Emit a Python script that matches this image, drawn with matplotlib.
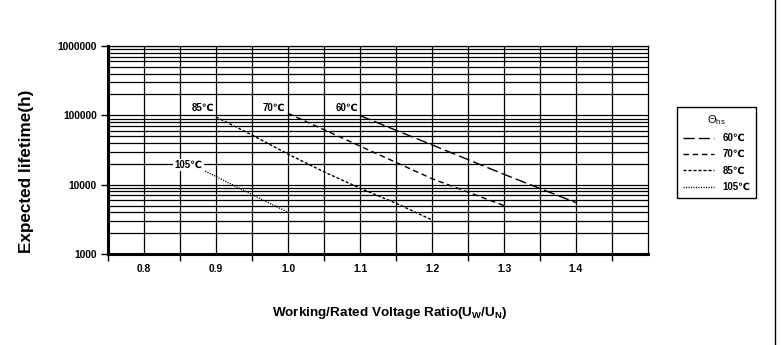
import matplotlib
matplotlib.use("Agg")
import matplotlib.pyplot as plt
from matplotlib.lines import Line2D
from matplotlib.ticker import FixedLocator, NullFormatter, FixedFormatter
import numpy as np

# values (lifetime in hours vs Uw/Un)
ratio_60 = [1.1, 1.2, 1.3, 1.4]
life_60 = [99000, 37500, 14100, 5500]

ratio_70 = [1.0, 1.1, 1.2, 1.3]
life_70 = [107000, 36000, 12200, 5000]

ratio_85 = [0.9, 0.95, 1.0, 1.05, 1.1, 1.15, 1.2]
life_85 = [95000, 52000, 27600, 15300, 8900, 5400, 3100]

ratio_105 = [0.885, 0.95, 1.0]
life_105 = [15700, 7200, 4000]

series_names = ["60℃", "70℃", "85℃", "105℃"]
x_tick_labels = ["0.8", "0.9", "1.0", "1.1", "1.2", "1.3", "1.4"]
y_tick_labels = ["1000", "10000", "100000", "1000000"]

plt.rcParams['font.family'] = ['Liberation Sans', 'DejaVu Sans']
plt.rcParams['mathtext.fontset'] = 'custom'
plt.rcParams['mathtext.rm'] = 'Liberation Sans'
plt.rcParams['mathtext.bf'] = 'Liberation Sans:bold'
plt.rcParams['lines.scale_dashes'] = False

fig = plt.figure(figsize=(7.81, 3.45), dpi=100)
ax = fig.add_axes([108 / 781, 1 - 254 / 345, 540 / 781, 208 / 345])

styles = {
    "60℃": dict(dashes=(8.0, 3.0)),
    "70℃": dict(dashes=(4.0, 2.6)),
    "85℃": dict(dashes=(2.2, 1.4)),
    "105℃": dict(dashes=(0.8, 1.0)),
}
data = [(ratio_60, life_60), (ratio_70, life_70), (ratio_85, life_85), (ratio_105, life_105)]
handles = []
for name, (xs, ys) in zip(series_names, data):
    h, = ax.plot(xs, ys, color='black', lw=1.0, zorder=3, **styles[name])
    handles.append(h)

ax.set_yscale('log')
ax.set_xlim(0.75, 1.5)
ax.set_ylim(1000, 1000000)

# x: unlabeled major ticks between labels, labels on minor positions
ax.xaxis.set_major_locator(FixedLocator(np.arange(0.75, 1.51, 0.1)))
ax.xaxis.set_major_formatter(NullFormatter())
ax.xaxis.set_minor_locator(FixedLocator([float(t) for t in x_tick_labels]))
ax.xaxis.set_minor_formatter(FixedFormatter(x_tick_labels))
ax.tick_params(axis='x', which='major', length=5, width=1, direction='out')
ax.tick_params(axis='x', which='minor', length=0, pad=7, labelsize=7.4)

ax.yaxis.set_major_locator(FixedLocator([float(t) for t in y_tick_labels]))
ax.yaxis.set_major_formatter(FixedFormatter(y_tick_labels))
ax.yaxis.set_minor_locator(FixedLocator([m * 10 ** e for e in range(3, 6) for m in range(2, 10)]))
ax.yaxis.set_minor_formatter(NullFormatter())
ax.tick_params(axis='y', which='major', length=5, width=1, direction='out', pad=3, labelsize=7.4)
ax.tick_params(axis='y', which='minor', length=0)
for lab in ax.get_xticklabels(minor=True) + ax.get_yticklabels():
    lab.set_fontweight('bold')

ax.grid(True, which='both', color='black', lw=0.9)
ax.set_axisbelow(True)
for side in ['left', 'bottom']:
    ax.spines[side].set_linewidth(2.2)
for side in ['top', 'right']:
    ax.spines[side].set_linewidth(0.9)

# curve labels
ax.text(0.898, 127000, "85℃", ha='right', va='center', fontsize=7, fontweight='bold')
ax.text(0.996, 127000, "70℃", ha='right', va='center', fontsize=7, fontweight='bold')
ax.text(1.097, 127000, "60℃", ha='right', va='center', fontsize=7, fontweight='bold')
ax.text(0.881, 19300, "105℃", ha='right', va='center', fontsize=7, fontweight='bold',
        bbox=dict(facecolor='white', edgecolor='none', pad=1), zorder=4)

fig.text(27 / 781, 1 - 171 / 345, "Expected lifetime(h)", rotation=90, ha='center', va='center',
         fontsize=12.3, fontweight='bold')
fig.text(390 / 781, 1 - 313 / 345, r"Working/Rated Voltage Ratio(U$_\mathbf{W}$/U$_\mathbf{N}$)",
         ha='center', va='center', fontsize=9.7, fontweight='bold')

leg = fig.legend(handles, series_names, loc='upper left', bbox_to_anchor=(677 / 781, 1 - 107 / 345),
                 title=r"Θ$_\mathrm{hs}$", fontsize=7, title_fontsize=8, frameon=True, fancybox=False,
                 handlelength=3.2, handletextpad=0.9, borderpad=0.6, labelspacing=0.65,
                 borderaxespad=0, edgecolor='black', framealpha=1)
leg.get_frame().set_linewidth(1.0)
for t in leg.get_texts():
    t.set_fontweight('bold')

fig.add_artist(Line2D([775 / 781, 775 / 781], [0, 1], transform=fig.transFigure, color='black', lw=1))

fig.savefig("out.png", dpi=100)
